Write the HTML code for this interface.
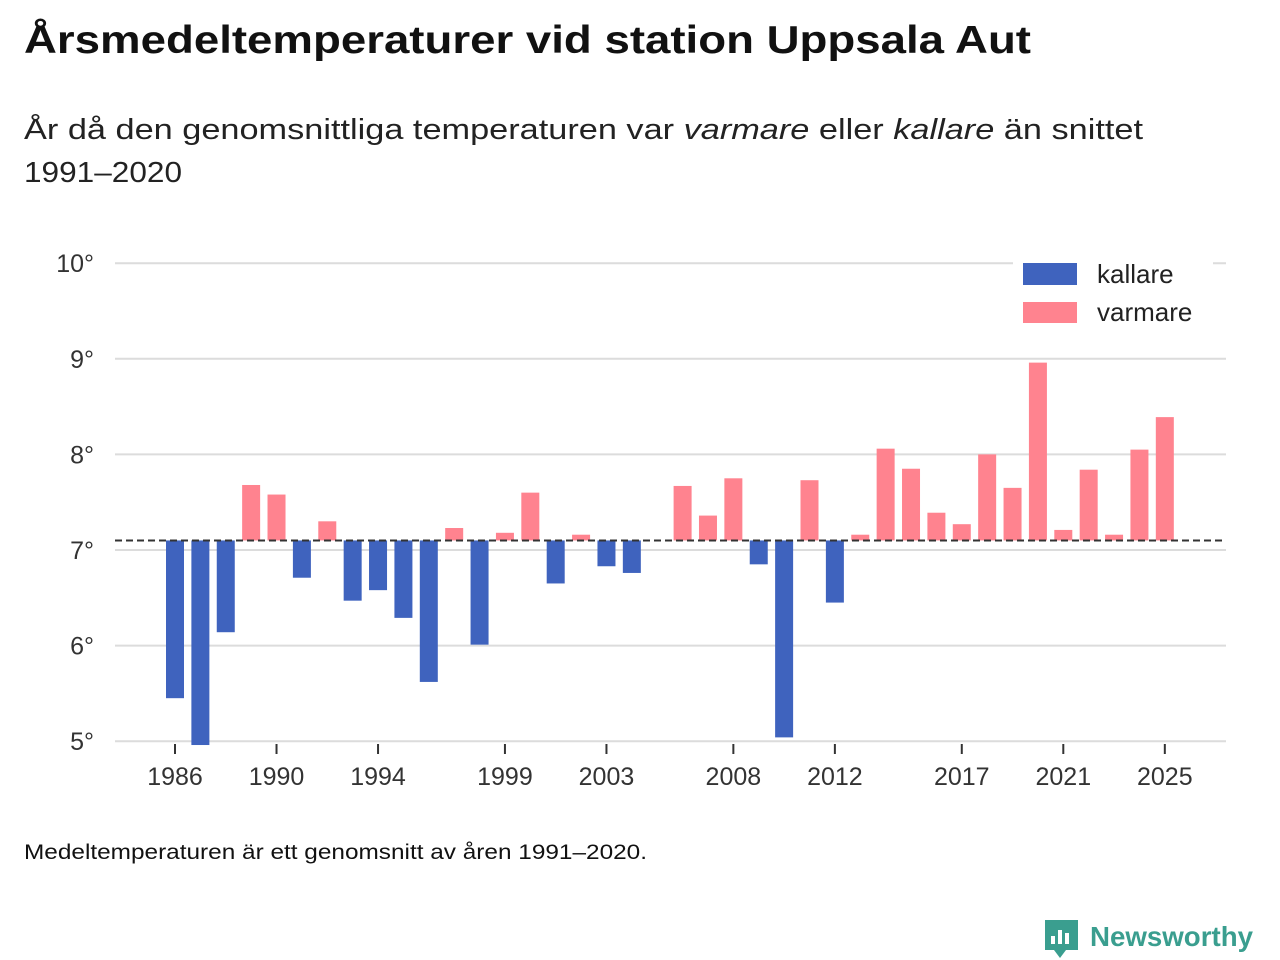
<!DOCTYPE html>
<html><head><meta charset="utf-8"><style>
html,body{margin:0;padding:0;background:#fff;width:1280px;height:960px;overflow:hidden}
svg{display:block;font-family:"Liberation Sans","DejaVu Sans",sans-serif}
</style></head><body>
<svg id="chart" width="1280" height="960">
<text x="24" y="53" font-size="39" font-weight="bold" fill="#111" textLength="1007" lengthAdjust="spacingAndGlyphs">Årsmedeltemperaturer vid station Uppsala Aut</text>
<text x="24" y="139" font-size="29" fill="#222" textLength="1119" lengthAdjust="spacingAndGlyphs">År då den genomsnittliga temperaturen var <tspan font-style="italic">varmare</tspan> eller <tspan font-style="italic">kallare</tspan> än snittet</text>
<text x="24" y="182" font-size="29" fill="#222" textLength="158" lengthAdjust="spacingAndGlyphs">1991–2020</text>
<g id="grid"></g><g id="bars"></g><g id="axes"></g>
<rect x="1013" y="250" width="200" height="85" fill="#fff"/>
<rect x="1023" y="263" width="54" height="22" fill="#3f63be"/>
<text x="1097" y="283" font-size="26" fill="#222">kallare</text>
<rect x="1023" y="302" width="54" height="21" fill="#ff838f"/>
<text x="1097" y="321" font-size="26" fill="#222">varmare</text>
<text x="24" y="859" font-size="21" fill="#111" textLength="623" lengthAdjust="spacingAndGlyphs">Medeltemperaturen är ett genomsnitt av åren 1991–2020.</text>
<g>
<path d="M1045 920 h33 v30 h-12 l-6 8 l-6 -8 h-9 z" fill="#3a9e8f"/>
<rect x="1051" y="936" width="4" height="8" fill="#fff"/><rect x="1058" y="930" width="4" height="14" fill="#fff"/><rect x="1065" y="933" width="4" height="11" fill="#fff"/>
<text x="1090" y="946" font-size="28" font-weight="bold" fill="#3a9e8f" textLength="163" lengthAdjust="spacingAndGlyphs">Newsworthy</text>
</g>
</svg>
<script>
const years=[1986,1987,1988,1989,1990,1991,1992,1993,1994,1995,1996,1997,1998,1999,2000,2001,2002,2003,2004,2005,2006,2007,2008,2009,2010,2011,2012,2013,2014,2015,2016,2017,2018,2019,2020,2021,2022,2023,2024,2025];
const temps=[5.45,4.96,6.14,7.68,7.58,6.71,7.30,6.47,6.58,6.29,5.62,7.23,6.01,7.18,7.60,6.65,7.16,6.83,6.76,null,7.67,7.36,7.75,6.85,5.04,7.73,6.45,7.16,8.06,7.85,7.39,7.27,8.00,7.65,8.96,7.21,7.84,7.16,8.05,8.39];
const baseline=7.1;
const yTicks=[5,6,7,8,9,10];
const xTicks=[1986,1990,1994,1999,2003,2008,2012,2017,2021,2025];
const NS="http://www.w3.org/2000/svg";
const y=v=>550-(v-7)*95.6;
const x=yr=>175+(yr-1986)*25.38;
function mk(t,a,p){const e=document.createElementNS(NS,t);for(const k in a)e.setAttribute(k,a[k]);p.appendChild(e);return e;}
const g=document.getElementById('grid'),b=document.getElementById('bars'),ax=document.getElementById('axes');
yTicks.forEach(v=>{
 const l=mk('line',{x1:115,x2:1226,y1:y(v),y2:y(v),stroke:'#dcdcdc','stroke-width':2},g);
 
 
 const t=mk('text',{x:94,y:y(v)+9,'text-anchor':'end','font-size':25,fill:'#333'},ax);
 t.textContent=v+'°';
 
 
});
years.forEach((yr,i)=>{
 const v=temps[i]; if(v==null) return;
 const top=Math.min(y(v),y(baseline)),h=Math.abs(y(v)-y(baseline));
 const r=mk('rect',{x:x(yr)-9,y:top,width:18,height:h,fill:v<baseline?'#3f63be':'#ff838f'},b);
 
 
});
const bl=mk('line',{x1:115,x2:1226,y1:y(baseline),y2:y(baseline),stroke:'#333','stroke-width':2,'stroke-dasharray':'7,4'},ax);


xTicks.forEach(yr=>{
 const l=mk('line',{x1:x(yr),x2:x(yr),y1:744,y2:754,stroke:'#333','stroke-width':2},ax);
 
 
 const t=mk('text',{x:x(yr),y:785,'text-anchor':'middle','font-size':25,fill:'#333'},ax);
 t.textContent=yr;
 
 
});
</script>
</body></html>
